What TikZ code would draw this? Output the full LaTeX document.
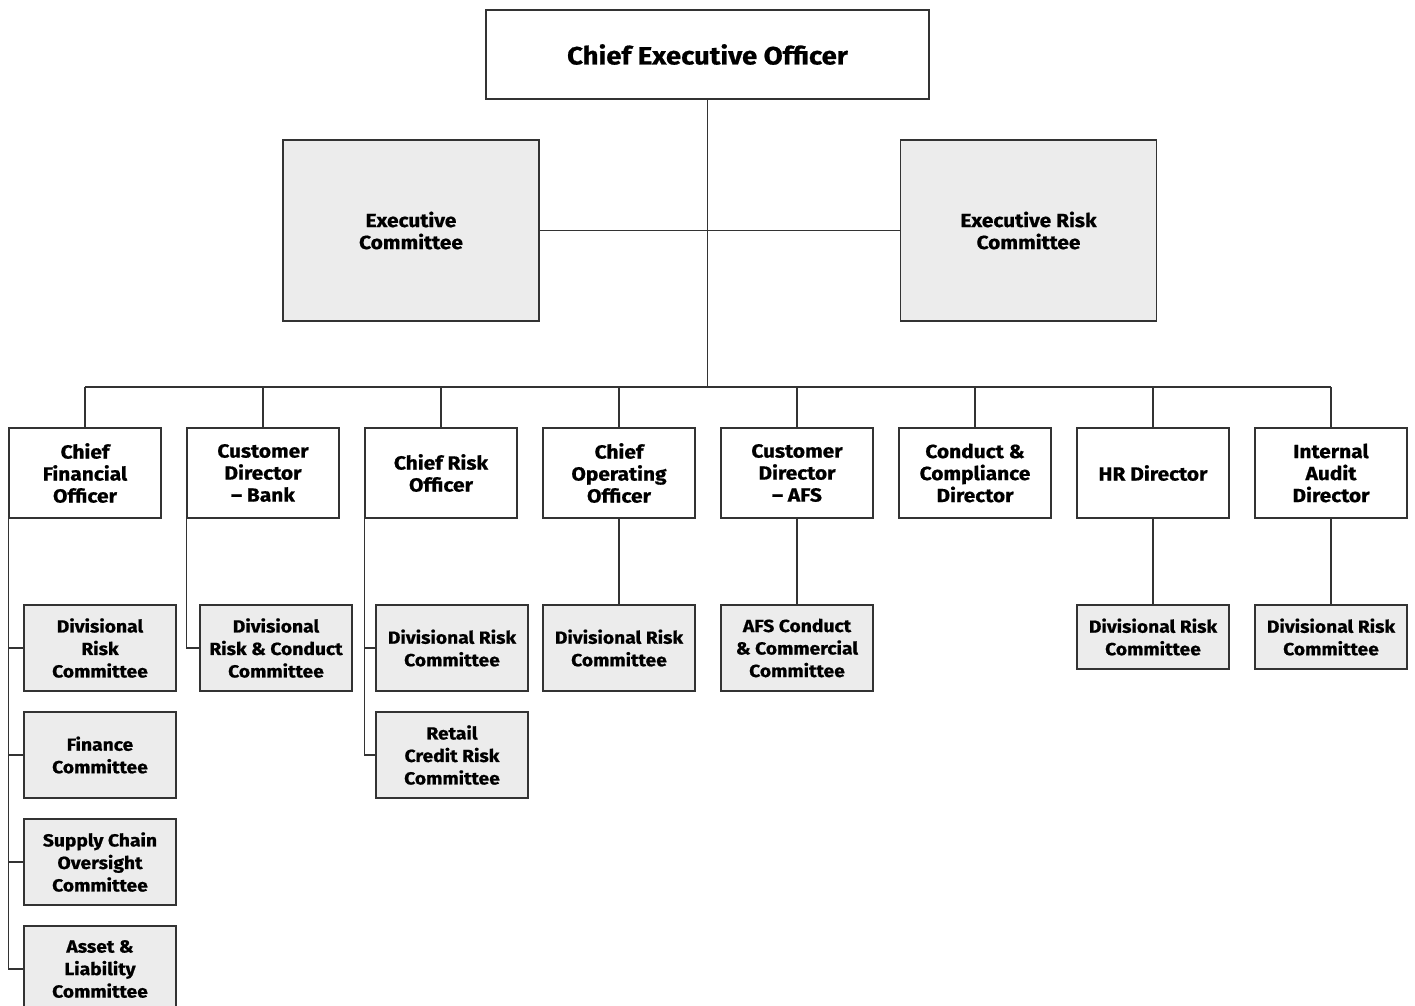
\documentclass[tikz,border=0pt]{standalone}
\usepackage{fontspec}
\setmainfont{Fira Sans}[FakeStretch=1.1, BoldFeatures={FakeBold=0.8}]
\definecolor{linegray}{HTML}{333333}
\definecolor{boxgray}{HTML}{ECECEC}
\begin{document}
\begin{tikzpicture}[x=1pt, y=-1pt, line width=1.4pt, draw=linegray,
	box/.style={draw=linegray, fill=white, inner sep=0pt, align=center, font=\bfseries\fontsize{19}{22}\selectfont},
	role/.style={box, minimum width=152pt, minimum height=90pt},
	cmte/.style={box, fill=boxgray, minimum width=152pt, minimum height=86pt, font=\bfseries\fontsize{17.5}{22.5}\selectfont},
	shortcmte/.style={cmte, minimum height=64pt}]
		\useasboundingbox (0,0) rectangle (1415,1005);
		\node[box, minimum width=443pt, minimum height=89pt, font=\bfseries\fontsize{25}{28}\selectfont] (ceo) at (707.5,54.5) {Chief Executive Officer};
		\node[box, fill=boxgray, minimum width=256pt, minimum height=181pt] (exco) at (411,230.5) {Executive\\Committee};
		\node[box, fill=boxgray, minimum width=256pt, minimum height=181pt] (erco) at (1028.5,230.5) {Executive Risk\\Committee};
		\coordinate (bus) at (707.5,387);
		\draw (ceo.south) -- (bus);
		\draw (exco.east) -- (erco.west);
	
		% directors
		\foreach \n/\x/\t in {cfo/85/{Chief\\Financial\\Officer}, cdb/263/{Customer\\Director\\– Bank}, cro/441/{Chief Risk\\Officer}, coo/619/{Chief\\Operating\\Officer}, cda/797/{Customer\\Director\\– AFS}, ccd/975/{Conduct \&\\Compliance\\Director}, hrd/1153/{HR Director}, iad/1331/{Internal\\Audit\\Director}} {
			\node[role] (\n) at (\x,473) {\t};
			\draw (\n.north) -- (\n.north |- bus);
		}
		\draw (cfo.north |- bus) -- (iad.north |- bus);
	
		% committees
		\foreach \i/\y/\t in {1/648/{Divisional\\Risk\\Committee}, 2/755/{Finance\\Committee}, 3/862/{Supply Chain\\Oversight\\Committee}, 4/969/{Asset \&\\Liability\\Committee}} {
			\node[cmte] (cfo\i) at (100,\y) {\t};
			\draw (cfo.south west) |- (cfo\i.west);
		}
		\node[cmte] (cdb1) at (276,648) {Divisional\\Risk \& Conduct\\Committee};
		\draw (cdb.south west) |- (cdb1.west);
		\node[cmte] (cro1) at (452,648) {Divisional Risk\\Committee};
		\node[cmte] (cro2) at (452,755) {Retail\\Credit Risk\\Committee};
		\draw (cro.south west) |- (cro1.west); \draw (cro.south west) |- (cro2.west);
		\node[cmte] (coo1) at (619,648) {Divisional Risk\\Committee};
		\node[cmte] (cda1) at (797,648) {AFS Conduct\\\& Commercial\\Committee};
		\node[shortcmte] (hrd1) at (1153,637) {Divisional Risk\\Committee};
		\node[shortcmte] (iad1) at (1331,637) {Divisional Risk\\Committee};
		\foreach \n in {coo, cda, hrd, iad} \draw (\n.south) -- (\n1.north);
	\end{tikzpicture}
\end{document}
